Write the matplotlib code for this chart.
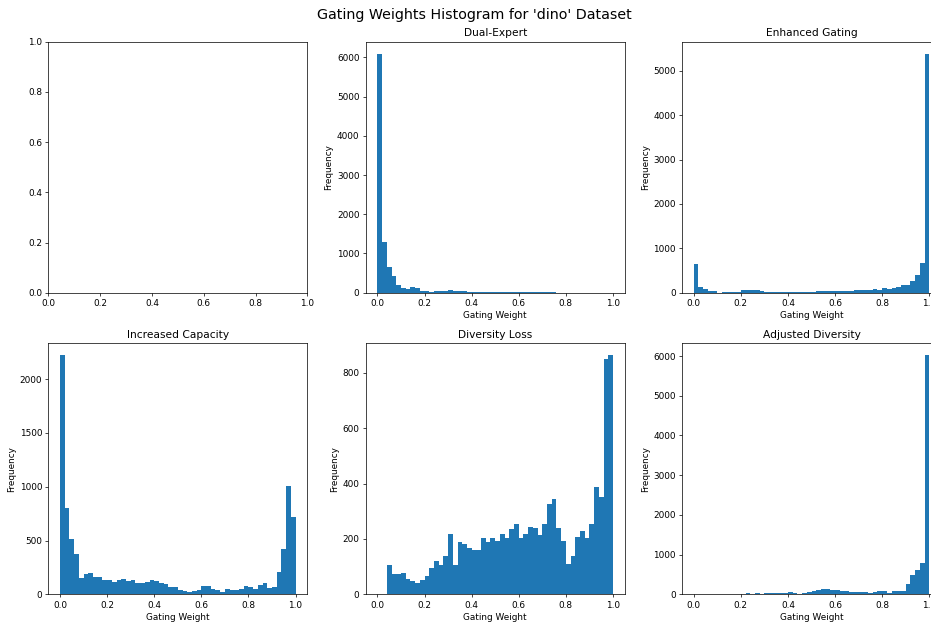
import matplotlib

matplotlib.use("Agg")
import matplotlib.pyplot as plt
import numpy as np

# bin edges used for every histogram (50 bins on [0, 1])
N_BINS = 50
BIN_LO, BIN_HI = 0.0, 1.0

# counts per bin
dual_expert = [6095, 1300, 655, 425, 200, 115, 105, 150, 115, 50,
               45, 30, 45, 45, 45, 70, 45, 40, 50, 30,
               20, 12, 10, 10, 10, 10, 10, 8, 8, 8,
               8, 8, 8, 8, 8, 6, 15, 15, 3, 2,
               1, 1, 0, 0, 0, 0, 0, 0, 0, 0]

enhanced_gating = [655, 120, 80, 30, 40, 3, 5, 8, 12, 25,
                   50, 60, 60, 70, 40, 25, 12, 15, 10, 5,
                   15, 18, 20, 20, 20, 22, 35, 40, 40, 45,
                   45, 45, 45, 45, 50, 50, 60, 50, 75, 70,
                   95, 90, 110, 125, 165, 180, 255, 395, 680, 5390]

increased_capacity = [2222, 803, 511, 378, 152, 189, 195, 158, 158, 130,
                      133, 115, 133, 140, 127, 133, 108, 108, 115, 130,
                      124, 105, 96, 71, 71, 37, 31, 22, 34, 40,
                      74, 74, 50, 40, 22, 50, 40, 37, 50, 74,
                      68, 50, 90, 105, 59, 68, 208, 425, 1004, 719]

diversity_loss = [0, 0, 107, 75, 75, 78, 57, 48, 41, 51,
                  66, 96, 119, 105, 140, 218, 107, 190, 183, 166,
                  161, 159, 205, 189, 205, 193, 219, 204, 236, 254,
                  204, 218, 243, 241, 214, 254, 325, 345, 240, 192,
                  110, 139, 206, 229, 202, 255, 388, 353, 850, 864]

adjusted_diversity = [0, 0, 0, 0, 0, 0, 0, 0, 0, 0,
                      17, 34, 17, 34, 17, 34, 34, 34, 34, 34,
                      50, 34, 17, 34, 50, 76, 118, 126, 126, 118,
                      100, 76, 76, 50, 50, 67, 50, 34, 50, 76,
                      76, 42, 92, 76, 84, 269, 479, 600, 780, 6020]

panel_titles = ["Dual-Expert", "Enhanced Gating", "Increased Capacity",
                "Diversity Loss", "Adjusted Diversity"]

DPI = 64
W_PX, H_PX = 931, 625


def px_axes(fig, left, top, width, height):
    # place an axes by its pixel box (top-left origin)
    return fig.add_axes([left / W_PX, (H_PX - top - height) / H_PX,
                         width / W_PX, height / H_PX])


def main() -> None:
    fig = plt.figure(figsize=(W_PX / DPI, H_PX / DPI), dpi=DPI)

    lefts = [48.3, 365.7, 682.0]
    tops = [41.7, 343.3]
    ax_w, ax_h = 259.0, 251.0

    axes = [px_axes(fig, lefts[c], tops[r], ax_w, ax_h)
            for r in range(2) for c in range(3)]

    edges = np.linspace(BIN_LO, BIN_HI, N_BINS + 1)
    centers = (edges[:-1] + edges[1:]) / 2
    series = [dual_expert, enhanced_gating, increased_capacity,
              diversity_loss, adjusted_diversity]

    # first panel is left empty in the original
    for ax, title, counts in zip(axes[1:], panel_titles, series):
        ax.hist(centers, bins=edges, weights=counts, color="#1f77b4")
        ax.set_title(title)
        ax.set_xlabel("Gating Weight")
        ax.set_ylabel("Frequency")

    fig.suptitle("Gating Weights Histogram for 'dino' Dataset", fontsize=16,
                 x=474.5 / W_PX, y=1 - 15 / H_PX, va="center")

    fig.savefig("out.png", dpi=DPI)


if __name__ == "__main__":
    main()
